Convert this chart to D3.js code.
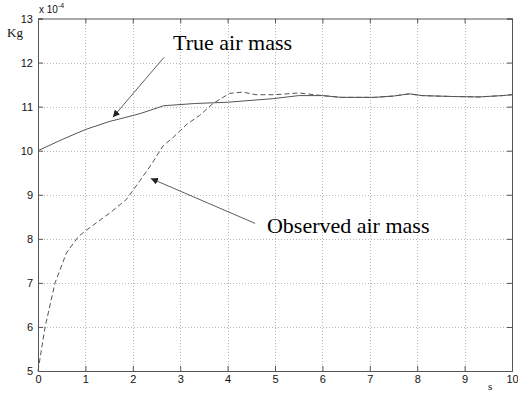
<!DOCTYPE html>
<html>
<head>
<meta charset="utf-8">
<script src="https://cdn.jsdelivr.net/npm/d3@7"></script>
<style>
  body { margin: 0; background: #fff; }
  svg { display: block; }
</style>
</head>
<body>
<div id="chart"></div>
<script>
// values in units of 1e-4 kg
const timeTrue = [0, 0.5, 1, 1.5, 2.15, 2.65, 3.3, 4.0, 4.95, 5.5, 6.0, 6.4, 7.1, 7.5, 7.83, 8.1, 8.74, 9.3, 9.8, 10];
const massTrue = [10, 10.25, 10.48, 10.66, 10.84, 11.02, 11.07, 11.1, 11.18, 11.25, 11.25, 11.21, 11.21, 11.24, 11.29, 11.25, 11.23, 11.22, 11.25, 11.27];

const timeObs = [0, 0.15, 0.36, 0.6, 0.85, 1.0, 1.52, 1.87, 2.15, 2.4, 2.63, 2.85, 3.14, 3.41, 3.69, 4.04, 4.32, 4.6, 5.0, 5.5, 6.0, 6.4, 7.1, 7.5, 7.83, 8.1, 8.74, 9.3, 9.8, 10];
const massObs = [5, 6.0, 7.0, 7.68, 8.05, 8.18, 8.59, 8.9, 9.32, 9.7, 10.1, 10.3, 10.6, 10.8, 11.07, 11.3, 11.33, 11.27, 11.27, 11.31, 11.25, 11.21, 11.21, 11.24, 11.29, 11.25, 11.23, 11.22, 11.25, 11.27];

const xTicks = [0, 1, 2, 3, 4, 5, 6, 7, 8, 9, 10];
const yTicks = [5, 6, 7, 8, 9, 10, 11, 12, 13];

// annotations: [label, text x, text y, arrow from x, from y, arrow to x, to y]
const notes = [
  ['True air mass', 2.85, 12.28, 2.66, 12.12, 1.58, 10.76],
  ['Observed air mass', 4.83, 8.14, 4.58, 8.35, 2.38, 9.37]
];

const width = 518, height = 394;
const margin = { top: 18.5, right: 6, bottom: 23, left: 38 };

const svg = d3.select('#chart').append('svg')
  .attr('width', width)
  .attr('height', height);

const x = d3.scaleLinear().domain([0, 10]).range([margin.left, width - margin.right]);
const y = d3.scaleLinear().domain([5, 13]).range([height - margin.bottom, margin.top]);

svg.append('defs').append('marker')
  .attr('id', 'head')
  .attr('viewBox', '0 0 10 10')
  .attr('refX', 10).attr('refY', 5)
  .attr('markerWidth', 7).attr('markerHeight', 7)
  .attr('markerUnits', 'userSpaceOnUse')
  .attr('orient', 'auto')
  .append('path')
  .attr('d', 'M0,0L10,5L0,10z')
  .attr('fill', '#222');

// grid
const grid = svg.append('g')
  .attr('stroke', '#b8b8b8')
  .attr('stroke-width', 1)
  .attr('stroke-dasharray', '1,2');
grid.selectAll('line.gx')
  .data(xTicks.slice(1, -1))
  .join('line')
  .attr('class', 'gx')
  .attr('x1', d => Math.round(x(d)) + 0.5).attr('x2', d => Math.round(x(d)) + 0.5)
  .attr('y1', y(5)).attr('y2', y(13));
grid.selectAll('line.gy')
  .data(yTicks.slice(1, -1))
  .join('line')
  .attr('class', 'gy')
  .attr('y1', d => Math.round(y(d)) + 0.5).attr('y2', d => Math.round(y(d)) + 0.5)
  .attr('x1', x(0)).attr('x2', x(10));

// axes (matlab box with inward ticks)
const tick = 5;
const font = 'Liberation Sans, Arial, sans-serif';

const xAxis = svg.append('g')
  .attr('transform', `translate(0,${y(5)})`)
  .call(d3.axisBottom(x).tickValues(xTicks).tickSize(-tick).tickPadding(4).tickFormat(d3.format('d')));
const yAxis = svg.append('g')
  .attr('transform', `translate(${x(0)},0)`)
  .call(d3.axisLeft(y).tickValues(yTicks).tickSize(-tick).tickPadding(5).tickFormat(d3.format('d')));
const xTop = svg.append('g')
  .attr('transform', `translate(0,${y(13)})`)
  .call(d3.axisTop(x).tickValues(xTicks).tickSize(-tick).tickFormat(''));
const yRight = svg.append('g')
  .attr('transform', `translate(${x(10)},0)`)
  .call(d3.axisRight(y).tickValues(yTicks).tickSize(-tick).tickFormat(''));

[xAxis, yAxis, xTop, yRight].forEach(g => {
  g.select('.domain').attr('stroke', '#555');
  g.selectAll('.tick line').attr('stroke', '#555');
  g.selectAll('.tick text')
    .attr('fill', '#111')
    .style('font-family', font)
    .style('font-size', '11px');
});

// exponent label
const expo = svg.append('text')
  .attr('x', x(0) + 1)
  .attr('y', 13)
  .style('font-family', font)
  .style('font-size', '10px')
  .attr('fill', '#111');
expo.append('tspan').text('x 10');
expo.append('tspan').attr('dy', -5).style('font-size', '7px').text('-4');

svg.append('text')
  .attr('x', 7).attr('y', 37)
  .style('font-family', 'Liberation Serif, Times New Roman, serif')
  .style('font-size', '13px')
  .attr('fill', '#111')
  .text('Kg');

svg.append('text')
  .attr('x', 488).attr('y', 390)
  .style('font-family', 'Liberation Serif, Times New Roman, serif')
  .style('font-size', '11px')
  .attr('fill', '#111')
  .text('s');

// lines
const line = d3.line().x(d => x(d[0])).y(d => y(d[1]));

svg.append('path')
  .datum(timeTrue.map((t, i) => [t, massTrue[i]]))
  .attr('fill', 'none')
  .attr('stroke', '#555')
  .attr('stroke-width', 1)
  .attr('d', line);

svg.append('path')
  .datum(timeObs.map((t, i) => [t, massObs[i]]))
  .attr('fill', 'none')
  .attr('stroke', '#555')
  .attr('stroke-width', 1)
  .attr('stroke-dasharray', '5,3')
  .attr('d', line);

// annotations
const ann = svg.append('g');
ann.selectAll('line')
  .data(notes)
  .join('line')
  .attr('x1', d => x(d[3])).attr('y1', d => y(d[4]))
  .attr('x2', d => x(d[5])).attr('y2', d => y(d[6]))
  .attr('stroke', '#333')
  .attr('stroke-width', 0.8)
  .attr('marker-end', 'url(#head)');
ann.selectAll('text')
  .data(notes)
  .join('text')
  .attr('x', d => x(d[1])).attr('y', d => y(d[2]))
  .style('font-family', 'Liberation Serif, Times New Roman, serif')
  .style('font-size', '22px')
  .attr('fill', '#000')
  .text(d => d[0]);
</script>
</body>
</html>
